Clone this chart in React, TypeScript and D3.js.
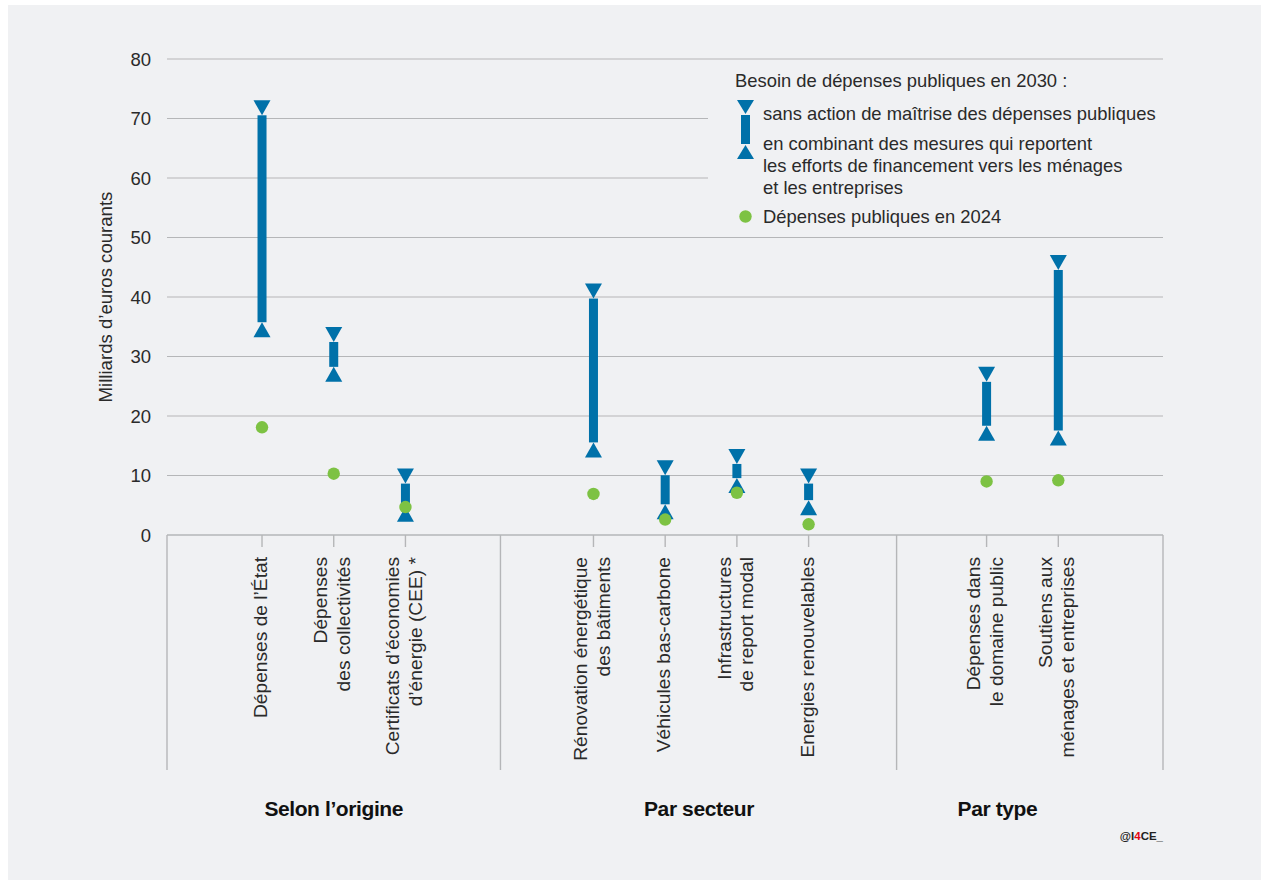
import React from 'react';
import * as d3 from 'd3';

// Chart values
const groups = ['Selon l’origine', 'Par secteur', 'Par type'];

const categories = [
  ['Dépenses de l’État'],
  ['Dépenses', 'des collectivités'],
  ['Certificats d’économies', 'd’énergie (CEE) *'],
  ['Rénovation énergétique', 'des bâtiments'],
  ['Véhicules bas-carbone'],
  ['Infrastructures', 'de report modal'],
  ['Energies renouvelables'],
  ['Dépenses dans', 'le domaine public'],
  ['Soutiens aux', 'ménages et entreprises'],
];

const categoryGroup = [0, 0, 0, 1, 1, 1, 1, 2, 2];

// Besoin 2030 sans action de maîtrise des dépenses publiques
const highValues = [71.8, 33.7, 9.9, 41.0, 11.3, 13.2, 9.9, 27.0, 45.8];
// Besoin 2030 en combinant des mesures de report
const lowValues = [34.5, 27.0, 3.5, 14.3, 3.9, 8.3, 4.6, 17.1, 16.3];
// Dépenses publiques en 2024
const values2024 = [18.1, 10.3, 4.7, 6.9, 2.6, 7.1, 1.8, 9.0, 9.2];

const yTicks = [0, 10, 20, 30, 40, 50, 60, 70, 80];

const legendTitle = 'Besoin de dépenses publiques en 2030 :';
const legendHigh = ['sans action de maîtrise des dépenses publiques'];
const legendLow = [
  'en combinant des mesures qui reportent',
  'les efforts de financement vers les ménages',
  'et les entreprises',
];
const legend2024 = 'Dépenses publiques en 2024';

// Layout (slot units = distance between two neighbouring categories)
const groupPad = [
  [0.825, 0.825],
  [0.797, 0.727],
  [0.755, 0.96],
];
const groupLabelShift = [0, -2, -25];

const W = 1261;
const H = 880;
const plot = { left: 167, right: 1163, top: 59, bottom: 535 };

const BLUE = '#0071a9';
const GREEN = '#7dc243';
const GRID = '#b5b6b8';
const TEXT = '#2a2a2a';
const PANEL = '#f0f1f3';
const FONT = '"Liberation Sans", Arial, Helvetica, sans-serif';

const TRI_W = 17;
const TRI_H = 15;
const BAR_W = 9;
const LEGEND_FS = 18.4;

// slot positions of categories and group edges
const groupCounts = groups.map((_, g) => categoryGroup.filter(c => c === g).length);
const groupEdges: number[] = [0];
const catSlots: number[] = [];
groups.forEach((_, g) => {
  const start = groupEdges[g];
  const idx = categoryGroup.map((c, i) => (c === g ? i : -1)).filter(i => i >= 0);
  idx.forEach((ci, k) => {
    catSlots[ci] = start + groupPad[g][0] + 0.5 + k;
  });
  groupEdges.push(start + groupPad[g][0] + groupCounts[g] + groupPad[g][1]);
});
const totalSlots = groupEdges[groupEdges.length - 1];

const x = d3.scaleLinear().domain([0, totalSlots]).range([plot.left, plot.right]);
const y = d3.scaleLinear().domain([0, 80]).range([plot.bottom, plot.top]);

const triDown = (cx: number, cy: number) =>
  `M${cx - TRI_W / 2},${cy - TRI_H / 2}L${cx + TRI_W / 2},${cy - TRI_H / 2}L${cx},${cy + TRI_H / 2}Z`;
const triUp = (cx: number, cy: number) =>
  `M${cx - TRI_W / 2},${cy + TRI_H / 2}L${cx + TRI_W / 2},${cy + TRI_H / 2}L${cx},${cy - TRI_H / 2}Z`;

const App: React.FC = () => {
  const lineH = 22.5;
  const labelTop = 557;
  return (
    <svg
      width={W}
      height={H}
      style={{ position: 'absolute', left: 0, top: 0, fontFamily: FONT }}
    >
      <rect x={0} y={0} width={W} height={H} fill="#ffffff" />
      <rect x={8} y={5} width={W - 8} height={H - 5} fill={PANEL} />

      {/* horizontal grid */}
      {yTicks.map(t => (
        <line
          key={`g${t}`}
          x1={plot.left}
          x2={plot.right}
          y1={y(t)}
          y2={y(t)}
          stroke={GRID}
          strokeWidth={t === 0 ? 1.6 : 1.2}
        />
      ))}

      {/* y tick labels */}
      {yTicks.map(t => (
        <text
          key={`t${t}`}
          x={151}
          y={y(t)}
          dy="0.36em"
          textAnchor="end"
          fontSize={18.5}
          fill={TEXT}
        >
          {t}
        </text>
      ))}

      <text
        transform={`translate(${105},${(plot.top + plot.bottom) / 2}) rotate(-90)`}
        textAnchor="middle"
        dy="0.36em"
        fontSize={18.6}
        fill={TEXT}
      >
        Milliards d’euros courants
      </text>

      {/* group separators */}
      {groupEdges.map((e, i) => (
        <line
          key={`s${i}`}
          x1={x(e)}
          x2={x(e)}
          y1={plot.bottom}
          y2={770}
          stroke={GRID}
          strokeWidth={1.4}
        />
      ))}

      {/* category ticks */}
      {catSlots.map((s, i) => (
        <line
          key={`k${i}`}
          x1={x(s)}
          x2={x(s)}
          y1={plot.bottom}
          y2={plot.bottom + 12}
          stroke={GRID}
          strokeWidth={1.4}
        />
      ))}

      {/* category labels */}
      {categories.map((lines, i) => (
        <text
          key={`c${i}`}
          transform={`translate(${x(catSlots[i]) - 2},${labelTop}) rotate(-90)`}
          textAnchor="end"
          fontSize={19.2}
          fill={TEXT}
        >
          {lines.map((l, j) => (
            <tspan key={j} x={0} y={(j - (lines.length - 1) / 2) * lineH} dy="0.36em">
              {l}
            </tspan>
          ))}
        </text>
      ))}

      {/* group labels */}
      {groups.map((g, gi) => {
        const slots = catSlots.filter((_, i) => categoryGroup[i] === gi);
        const cx = x(d3.mean(slots) as number) + groupLabelShift[gi];
        return (
          <text
            key={`gl${gi}`}
            x={cx}
            y={808}
            dy="0.36em"
            textAnchor="middle"
            fontSize={21}
            fontWeight="bold"
            letterSpacing={-0.4}
            fill="#111"
          >
            {g}
          </text>
        );
      })}

      {/* range marks */}
      {categories.map((_, i) => {
        const cx = x(catSlots[i]);
        const yh = y(highValues[i]);
        const yl = y(lowValues[i]);
        return (
          <g key={`r${i}`} fill={BLUE}>
            <rect x={cx - BAR_W / 2} y={yh + TRI_H / 2} width={BAR_W} height={Math.max(0, yl - yh - TRI_H)} />
            <path d={triDown(cx, yh)} />
            <path d={triUp(cx, yl)} />
          </g>
        );
      })}

      {/* 2024 points */}
      {values2024.map((v, i) => (
        <circle key={`p${i}`} cx={x(catSlots[i])} cy={y(v)} r={6.2} fill={GREEN} />
      ))}

      {/* legend */}
      <rect x={708} y={63} width={plot.right - 708} height={168} fill={PANEL} />
      <text x={735} y={80} dy="0.36em" fontSize={LEGEND_FS} fill={TEXT}>
        {legendTitle}
      </text>
      <g fill={BLUE}>
        <path d={`M737,100L754,100L745.5,114Z`} />
        <rect x={741} y={115} width={BAR_W} height={29} />
        <path d={`M737,159L754,159L745.5,145Z`} />
      </g>
      {legendHigh.map((l, i) => (
        <text key={`lh${i}`} x={763} y={113 + i * 22} dy="0.36em" fontSize={LEGEND_FS} fill={TEXT}>
          {l}
        </text>
      ))}
      {legendLow.map((l, i) => (
        <text key={`ll${i}`} x={763} y={143 + i * 22} dy="0.36em" fontSize={LEGEND_FS} fill={TEXT}>
          {l}
        </text>
      ))}
      <circle cx={745.5} cy={216.5} r={6.2} fill={GREEN} />
      <text x={763} y={216} dy="0.36em" fontSize={LEGEND_FS} fill={TEXT}>
        {legend2024}
      </text>

      {/* logo */}
      <text x={1163} y={836} dy="0.36em" textAnchor="end" fontSize={11.5} fontWeight="bold" fill="#222">
        @I<tspan fill="#e30613">4</tspan>CE_
      </text>
    </svg>
  );
};

export default App;
